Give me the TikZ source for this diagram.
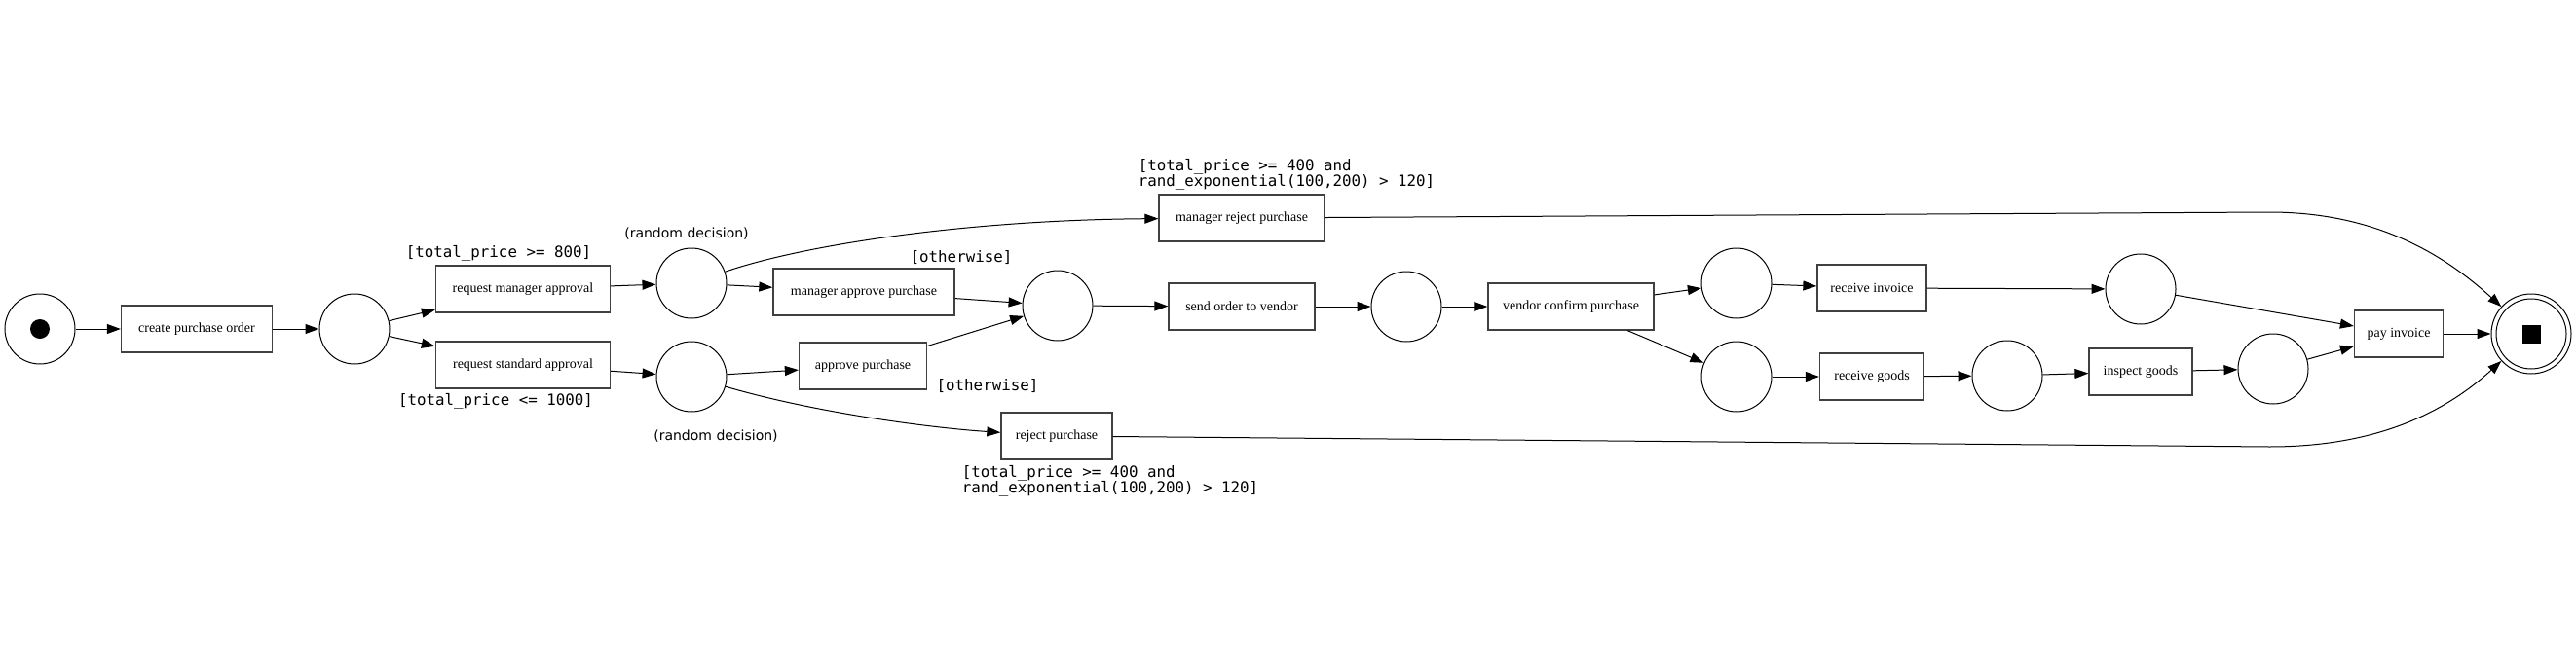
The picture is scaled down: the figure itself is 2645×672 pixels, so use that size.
\documentclass[tikz,border=0pt]{standalone}
\usepackage{fontspec}
\setmainfont{Liberation Serif}
\setsansfont{DejaVu Sans}
\setmonofont{DejaVu Sans Mono}
\usetikzlibrary{arrows.meta}
\tikzstyle{pl}=[shape=circle, draw, minimum size=72pt, inner sep=0, line width=1pt]
\tikzstyle{tr}=[shape=rectangle, draw=black!75, line width=1.3pt, minimum height=48pt, inner sep=0, font=\fontsize{14}{16}\selectfont]
\tikzstyle{guard}=[inner sep=0, align=left, font=\ttfamily\fontsize{15.8}{16}\selectfont]
\tikzstyle{note}=[inner sep=0, font=\sffamily\fontsize{14}{16}\selectfont]
\tikzstyle{flow}=[line width=1pt, -{Triangle[length=14pt,width=10pt]}]

\begin{document}
\begin{tikzpicture}[x=1pt,y=-1pt]
\useasboundingbox (0,0) rectangle (2645,672);
\node at (41,338)[pl](0){};
\node at (41,338)[circle, fill, minimum size=20pt, inner sep=0](0a){};
\node at (202,338)[tr, minimum width=155pt](1){create purchase order};
\node at (364,338)[pl](2){};
\node at (537,297)[tr, minimum width=179pt](3){request manager approval};
\node at (537,375)[tr, minimum width=179pt](4){request standard approval};
\node at (710,291)[pl](5){};
\node at (710,387)[pl](6){};
\node at (887,300)[tr, minimum width=186pt](7){manager approve purchase};
\node at (886,376)[tr, minimum width=131pt](8){approve purchase};
\node at (1275,224)[tr, minimum width=170pt](9){manager reject purchase};
\node at (1085,448)[tr, minimum width=114pt](10){reject purchase};
\node at (1086,314)[pl](11){};
\node at (1275,315)[tr, minimum width=150pt](12){send order to vendor};
\node at (1444,315)[pl](13){};
\node at (1613,315)[tr, minimum width=170pt](14){vendor confirm purchase};
\node at (1783,291)[pl](15){};
\node at (1783,387)[pl](16){};
\node at (1922,296)[tr, minimum width=112pt](17){receive invoice};
\node at (1922,387)[tr, minimum width=107pt](18){receive goods};
\node at (2198,297)[pl](19){};
\node at (2061,386)[pl](20){};
\node at (2198,382)[tr, minimum width=106pt](21){inspect goods};
\node at (2334,379)[pl](22){};
\node at (2463,343)[tr, minimum width=91pt](23){pay invoice};
\node at (2599,343)[pl, minimum size=82pt](24){};
\node at (2599,343)[pl](24a){};
\node at (2599,343)[fill, minimum size=19pt, inner sep=0](24b){};
\node at (512,260)[guard](g1){[total\_price >= 800]};
\node at (509,412)[guard](g2){[total\_price <= 1000]};
\node at (705,240)[note](r1){(random decision)};
\node at (735,448)[note](r2){(random decision)};
\node at (987,265)[guard](g3){[otherwise]};
\node at (1014,397)[guard](g4){[otherwise]};
\node at (1321,179)[guard](g5){[total\_price >= 400 and\\rand\_exponential(100,200) > 120]};
\node at (1140,494)[guard](g6){[total\_price >= 400 and\\rand\_exponential(100,200) > 120]};
\draw[flow] (0)--(1);
\draw[flow] (1)--(2);
\draw[flow] (2)--(3);
\draw[flow] (2)--(4);
\draw[flow] (3)--(5);
\draw[flow] (4)--(6);
\draw[flow] (5)--(7);
\draw[flow] (6)--(8);
\draw[flow] (5) .. controls (830,250) and (1000,226) .. (9);
\draw[flow] (6) .. controls (840,425) and (960,440) .. (10);
\draw[flow] (7)--(11);
\draw[flow] (8)--(11);
\draw[flow] (11)--(12);
\draw[flow] (12)--(13);
\draw[flow] (13)--(14);
\draw[flow] (14)--(15);
\draw[flow] (14)--(16);
\draw[flow] (15)--(17);
\draw[flow] (16)--(18);
\draw[flow] (17)--(19);
\draw[flow] (18)--(20);
\draw[flow] (20)--(21);
\draw[flow] (21)--(22);
\draw[flow] (19)--(23);
\draw[flow] (22)--(23);
\draw[flow] (23)--(24);
\draw[flow] (9) -- (2330,218) .. controls (2440,218) and (2510,262) .. (24);
\draw[flow] (10) -- (2330,459) .. controls (2440,459) and (2510,424) .. (24);
\end{tikzpicture}
\end{document}
